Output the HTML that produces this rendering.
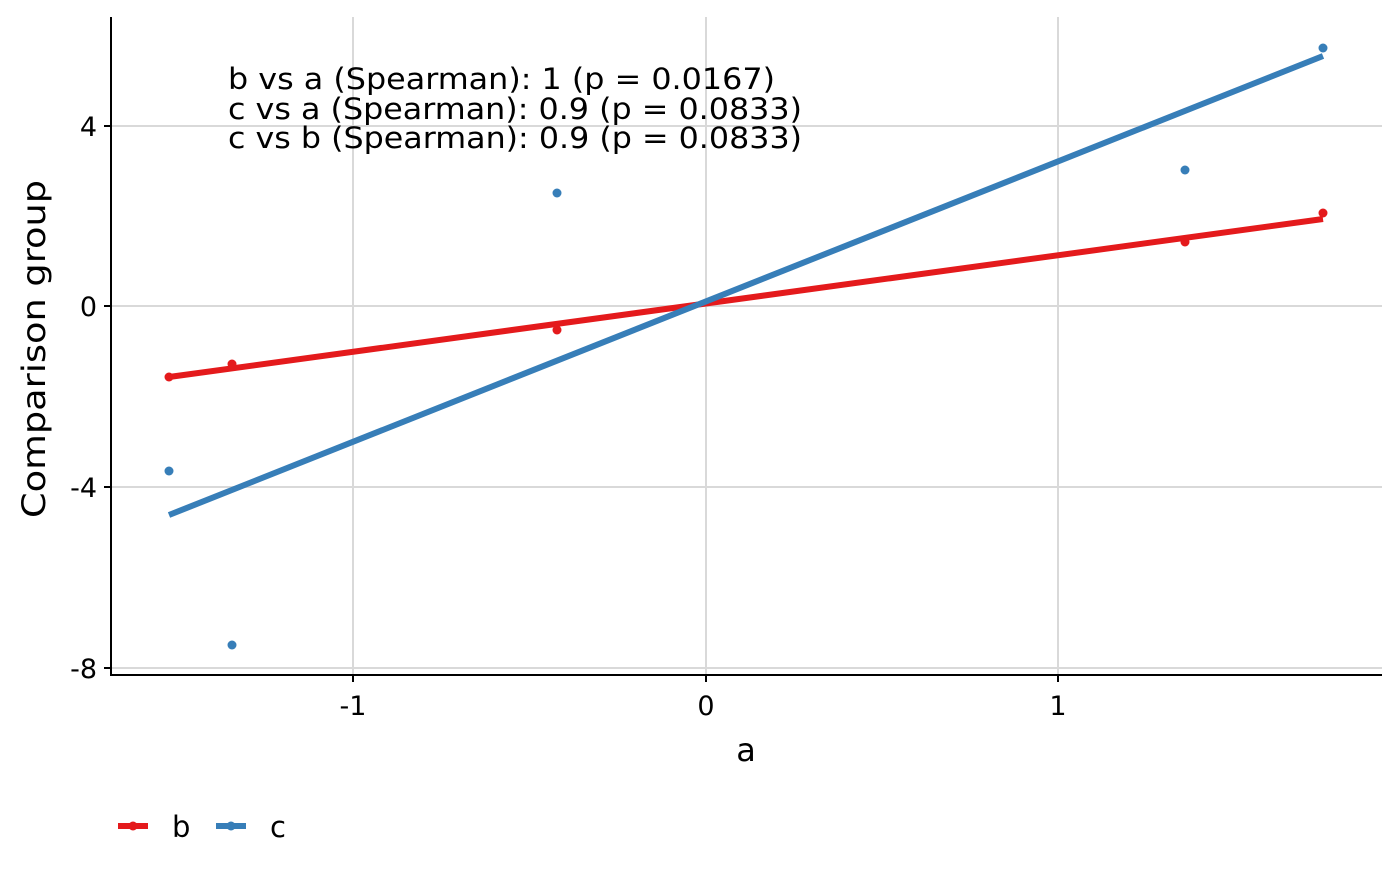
<!DOCTYPE html>
<html><head><style>body{margin:0;background:#fff}</style></head><body>
<svg width="1400" height="866" xmlns="http://www.w3.org/2000/svg" font-family="DejaVu Sans, Liberation Sans, sans-serif">
<g stroke="#d9d9d9" stroke-width="2">
<line x1="353" y1="17" x2="353" y2="675"/><line x1="706" y1="17" x2="706" y2="675"/><line x1="1058" y1="17" x2="1058" y2="675"/>
<line x1="111" y1="126" x2="1382" y2="126"/><line x1="111" y1="306" x2="1382" y2="306"/><line x1="111" y1="487" x2="1382" y2="487"/><line x1="111" y1="668" x2="1382" y2="668"/>
</g>
<g stroke="#000" stroke-width="2">
<line x1="111" y1="17" x2="111" y2="675"/><line x1="110" y1="675" x2="1382" y2="675"/>
<line x1="104" y1="126" x2="111" y2="126"/><line x1="104" y1="306" x2="111" y2="306"/><line x1="104" y1="487" x2="111" y2="487"/><line x1="104" y1="668" x2="111" y2="668"/>
<line x1="353" y1="675" x2="353" y2="682"/><line x1="706" y1="675" x2="706" y2="682"/><line x1="1058" y1="675" x2="1058" y2="682"/>
</g>
<g font-size="27" fill="#000" text-anchor="end">
<text x="97" y="136">4</text><text x="97" y="316">0</text><text x="97" y="497">-4</text><text x="97" y="678">-8</text>
</g>
<g font-size="27" fill="#000" text-anchor="middle">
<text x="353" y="715">-1</text><text x="706" y="715">0</text><text x="1058" y="715">1</text>
</g>
<text x="746" y="761" font-size="32" text-anchor="middle">a</text>
<text transform="translate(45,349) rotate(-90)" font-size="32" text-anchor="middle" textLength="338" lengthAdjust="spacingAndGlyphs">Comparison group</text>
<g font-size="29">
<text x="228" y="89" textLength="547" lengthAdjust="spacingAndGlyphs">b vs a (Spearman): 1 (p = 0.0167)</text>
<text x="228" y="119" textLength="574" lengthAdjust="spacingAndGlyphs">c vs a (Spearman): 0.9 (p = 0.0833)</text>
<text x="228" y="148" textLength="574" lengthAdjust="spacingAndGlyphs">c vs b (Spearman): 0.9 (p = 0.0833)</text>
</g>
<g fill="#e41a1c"><circle cx="169" cy="377" r="4.5"/><circle cx="232" cy="364" r="4.5"/><circle cx="557" cy="330" r="4.5"/><circle cx="1185" cy="242" r="4.5"/><circle cx="1323" cy="213" r="4.5"/></g>
<g fill="#377eb8"><circle cx="169" cy="471" r="4.5"/><circle cx="232" cy="645" r="4.5"/><circle cx="557" cy="193" r="4.5"/><circle cx="1185" cy="170" r="4.5"/><circle cx="1323" cy="48" r="4.5"/></g>
<line x1="169" y1="377" x2="1323" y2="219" stroke="#e41a1c" stroke-width="6"/>
<line x1="169" y1="515" x2="1323" y2="56" stroke="#377eb8" stroke-width="6"/>
<line x1="118" y1="826" x2="148" y2="826" stroke="#e41a1c" stroke-width="6"/><circle cx="133" cy="826" r="4.5" fill="#e41a1c"/>
<text x="172" y="837" font-size="29">b</text>
<line x1="216" y1="826" x2="246" y2="826" stroke="#377eb8" stroke-width="6"/><circle cx="231" cy="826" r="4.5" fill="#377eb8"/>
<text x="270" y="837" font-size="29">c</text>
</svg>
</body></html>
